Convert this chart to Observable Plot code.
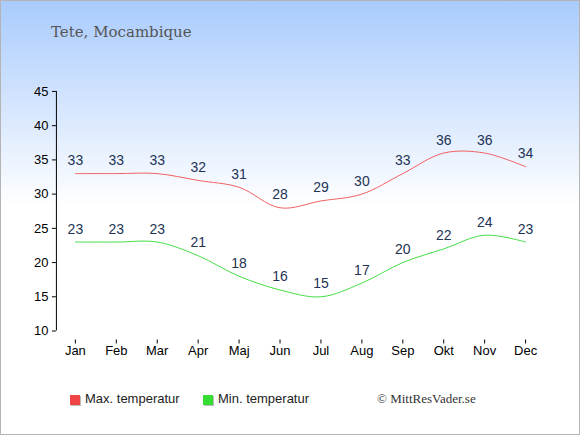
<!DOCTYPE html>
<html>
<head>
<meta charset="utf-8">
<script src="https://cdn.jsdelivr.net/npm/d3@7"></script>
<script src="https://cdn.jsdelivr.net/npm/@observablehq/plot@0.6"></script>
<style>
  html, body { margin: 0; padding: 0; }
  #frame {
    position: relative; width: 580px; height: 435px; box-sizing: border-box;
    border: 1px solid #b4b4b4; overflow: hidden;
    background: linear-gradient(to bottom, #a9cbfd 0px, #ffffff 205px, #ffffff 435px);
    font-family: "Liberation Sans", Arial, sans-serif;
  }
  #title {
    position: absolute; left: 50px; top: 22px; font-family: "DejaVu Serif", "Liberation Serif", serif;
    font-size: 15px; color: #555; white-space: nowrap;
  }
  #chart { position: absolute; left: -1px; top: 59px; }
  .leg { position: absolute; top: 389px; font-size: 13px; color: #222; line-height: 18px; }
  .sw { position: absolute; width: 10px; height: 10px; top: 5px; left: 0; box-shadow: 1px 1px 0 #bbb; }
  .leg span.t { position: absolute; left: 15px; white-space: nowrap; }
  #copy {
    position: absolute; left: 376px; top: 389px; font-family: "Liberation Serif", serif;
    font-size: 13px; color: #333; line-height: 18px; white-space: nowrap;
  }
</style>
</head>
<body>
<div id="frame">
  <div id="title">Tete, Mocambique</div>
  <div id="chart"></div>
  <div class="leg" style="left:69px"><div class="sw" style="background:#ee4444"></div><span class="t">Max. temperatur</span></div>
  <div class="leg" style="left:202px"><div class="sw" style="background:#33dd33"></div><span class="t">Min. temperatur</span></div>
  <div id="copy">© MittResVader.se</div>
</div>
<script>
const months = ["Jan","Feb","Mar","Apr","Maj","Jun","Jul","Aug","Sep","Okt","Nov","Dec"];
const maxTemp = [33,33,33,32,31,28,29,30,33,36,36,34];
const minTemp = [23,23,23,21,18,16,15,17,20,22,24,23];
const yTicks = [10,15,20,25,30,35,40,45];

const maxData = months.map((m, i) => ({month: m, value: maxTemp[i]}));
const minData = months.map((m, i) => ({month: m, value: minTemp[i]}));

const chart = Plot.plot({
  width: 580,
  height: 310,
  marginLeft: 75,
  marginRight: 54,
  marginTop: 31,
  marginBottom: 39,
  style: {background: "transparent", fontFamily: "Liberation Sans, Arial, sans-serif", fontSize: "13px", color: "#000"},
  x: {type: "point", domain: months, padding: 0, axis: null},
  y: {domain: [10, 45], axis: null},
  marks: [
    Plot.ruleX([months[0]], {x: d => d, y1: 10, y2: 45, dx: -19, stroke: "#000"}),
    Plot.axisY({ticks: yTicks, dx: -19, tickSize: 4, tickPadding: 4, fontSize: 13, label: null, tickFormat: d => String(d)}),
    Plot.ruleY([10], {x1: months[0], x2: months[11], dy: 10, stroke: "#000"}),
    Plot.axisX({tickSize: 4, dy: 9, tickPadding: 2, fontSize: 13, label: null}),
    Plot.line(maxData, {x: "month", y: "value", stroke: "#f06060", strokeWidth: 1, curve: "catmull-rom"}),
    Plot.line(minData, {x: "month", y: "value", stroke: "#44dd44", strokeWidth: 1, curve: "catmull-rom"}),
    Plot.text(maxData, {x: "month", y: "value", text: d => String(d.value), dy: -13, fill: "#223355", fontSize: 14}),
    Plot.text(minData, {x: "month", y: "value", text: d => String(d.value), dy: -13, fill: "#223355", fontSize: 14})
  ]
});
document.getElementById("chart").appendChild(chart);
</script>
</body>
</html>
